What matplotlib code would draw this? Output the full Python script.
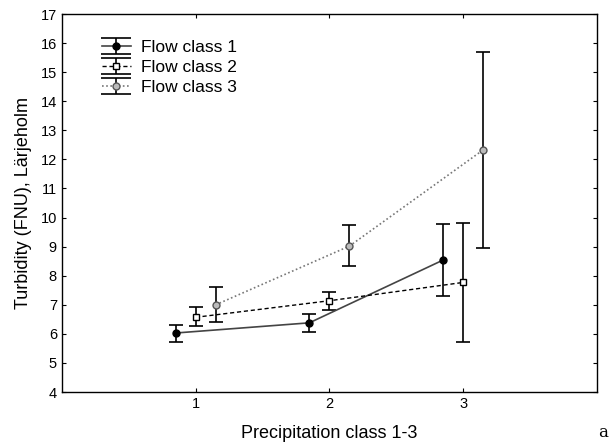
import numpy as np
import matplotlib.pyplot as plt
from matplotlib.legend_handler import HandlerErrorbar

plt.rcParams['font.family'] = ['Liberation Sans', 'DejaVu Sans']

# precipitation classes and flow class offsets
precip = np.array([1, 2, 3])
offsets = [-0.15, 0.0, 0.15]
labels = ["Flow class 1", "Flow class 2", "Flow class 3"]

# means and error bar limits
flow1_mean = [6.03, 6.38, 8.54]
flow1_low = [5.73, 6.06, 7.30]
flow1_high = [6.30, 6.67, 9.78]

flow2_mean = [6.57, 7.14, 7.77]
flow2_low = [6.27, 6.82, 5.73]
flow2_high = [6.91, 7.45, 9.83]

flow3_mean = [7.00, 9.02, 12.33]
flow3_low = [6.40, 8.33, 8.97]
flow3_high = [7.62, 9.74, 15.69]

fig = plt.figure(figsize=(6.12, 4.45), dpi=100)
ax = fig.add_axes([0.101, 0.119, 0.8745, 0.8495])

series = [
    (flow1_mean, flow1_low, flow1_high, dict(marker='o', mfc='black', mec='black', ms=5,
                                              color='#444444', ls='-', lw=1.2)),
    (flow2_mean, flow2_low, flow2_high, dict(marker='s', mfc='white', mec='black', ms=5,
                                              color='black', ls=(0, (3, 2)), lw=1.0)),
    (flow3_mean, flow3_low, flow3_high, dict(marker='o', mfc='#bbbbbb', mec='#555555', ms=5,
                                              color='#777777', ls=(0, (1, 1.5)), lw=1.2)),
]

handles = []
for (mean, low, high, style), off, lab in zip(series, offsets, labels):
    mean = np.array(mean)
    err = [mean - np.array(low), np.array(high) - mean]
    ax.errorbar(precip + off, mean, yerr=err, ecolor='black', elinewidth=1.2,
                capsize=5.3, capthick=1.2, **style)
    # proxy with wide caps, only for the legend (drawn outside the view)
    h = ax.errorbar([-10], [0], yerr=[1], ecolor='black', elinewidth=1.2,
                    capsize=10.5, capthick=1.2, label=lab, **style)
    handles.append(h)

ax.set_xlim(0, 4)
ax.set_ylim(4, 17)
ax.set_xticks([1, 2, 3])
ax.set_yticks(range(4, 18))
ax.tick_params(direction='in', top=True, right=True, length=3, labelsize=10.5)
for s in ax.spines.values():
    s.set_linewidth(1.0)

ax.set_xlabel("Precipitation class 1-3", fontsize=13, labelpad=10)
ax.set_ylabel("Turbidity (FNU), Lärjeholm", fontsize=13, labelpad=6)

leg = ax.legend(handles=handles, labels=labels, loc='upper left',
                bbox_to_anchor=(0.075, 0.932), frameon=False,
                fontsize=12.5, handlelength=1.67, handletextpad=0.6, labelspacing=0.28,
                borderaxespad=0, borderpad=0,
                handler_map={type(handles[0]): HandlerErrorbar(xerr_size=0.5, yerr_size=0.46)})

fig.text(0.985, 0.018, "a", fontsize=12, family='DejaVu Serif', ha='center')

fig.savefig("out.png", dpi=100)
